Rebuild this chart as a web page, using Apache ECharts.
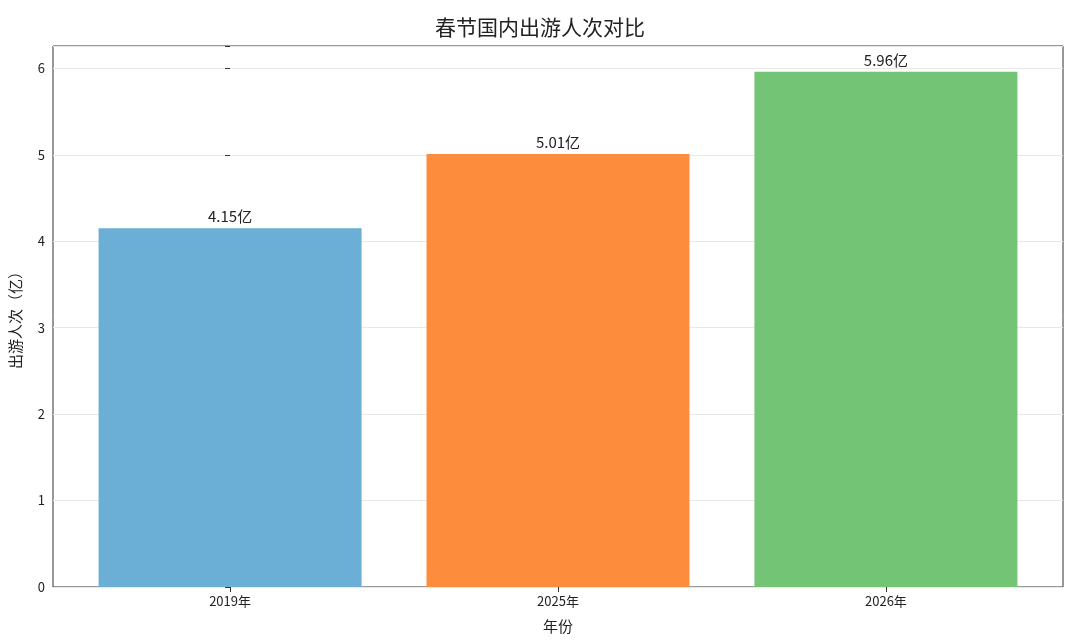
<!DOCTYPE html>
<html><head><meta charset="utf-8">
<script src="https://cdn.jsdelivr.net/npm/echarts@6/dist/echarts.min.js"></script>
<style>body{margin:0}#c{width:1080px;height:644px}</style></head>
<body><div id="c"></div>
<script>
// 数据
const years = ["2019年", "2025年", "2026年"];
const values = [4.15, 5.01, 5.96];
const colors = ["#6baed6", "#fd8d3c", "#74c476"];

const font = "'Noto Sans CJK SC', 'Noto Sans', sans-serif";
const chart = echarts.init(document.getElementById("c"));
chart.setOption({
  animation: false,
  title: { text: "春节国内出游人次对比", left: "center", top: 12,
    textStyle: { fontFamily: font, fontSize: 21, fontWeight: "normal", color: "#222" } },
  grid: { left: 52, right: 17, top: 46, bottom: 57, show: true, borderColor: "#333", borderWidth: 1 },
  xAxis: {
    type: "value", min: -0.54, max: 2.54,
    name: "年份", nameLocation: "middle", nameGap: 32,
    nameTextStyle: { fontFamily: font, fontSize: 15, color: "#222" },
    splitLine: { show: false },
    axisLine: { show: false },
    axisTick: { show: true, customValues: [0, 1, 2], lineStyle: { color: "#333" } },
    axisLabel: { customValues: [0, 1, 2], fontFamily: font, fontSize: 13, color: "#222",
      formatter: v => years[Math.round(v)] }
  },
  yAxis: {
    type: "value", min: 0, max: 6.258, interval: 1,
    name: "出游人次（亿）", nameLocation: "middle", nameGap: 30,
    nameTextStyle: { fontFamily: font, fontSize: 15, color: "#222" },
    axisLine: { show: false },
    axisTick: { show: true, lineStyle: { color: "#333" } },
    axisLabel: { fontFamily: font, fontSize: 13, color: "#222",
      formatter: v => (v > 6.1 ? "" : v) },
    splitLine: { lineStyle: { color: "#e8e8e8" } }
  },
  series: [{
    type: "bar", barWidth: 263,
    data: values.map((v, i) => ({ value: [i, v], itemStyle: { color: colors[i] } })),
    label: { show: true, position: "top", distance: 4, fontFamily: font, fontSize: 15, color: "#222",
      formatter: p => p.value[1].toFixed(2) + "亿" }
  }]
});
</script></body></html>
